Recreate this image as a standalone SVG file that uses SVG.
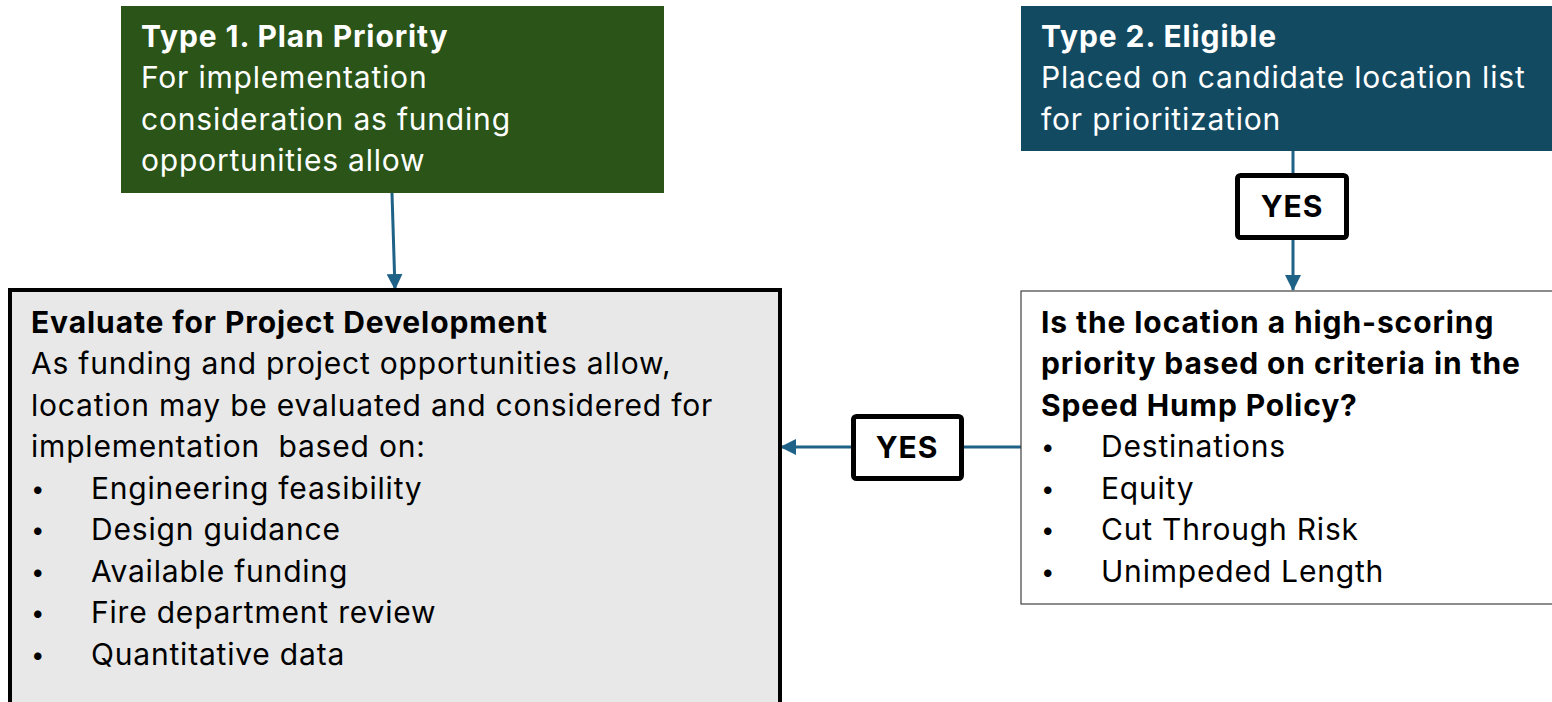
<svg xmlns="http://www.w3.org/2000/svg" width="1552" height="702" viewBox="0 0 1552 702">
<defs>
<style>
text{font-family:Inter,"Noto Sans","Liberation Sans",sans-serif;font-size:30px;letter-spacing:0.8px;}
.w{fill:#ffffff;}
.k{fill:#000000;}
.b{font-weight:bold;letter-spacing:0.9px;}
.bul{font-size:24px;}
.con{stroke:#1f6287;stroke-width:3;fill:none;}
.yes{fill:#ffffff;stroke:#000000;stroke-width:5;}
</style>
<marker id="ah" markerWidth="16" markerHeight="16" refX="15" refY="8" orient="auto" markerUnits="userSpaceOnUse" viewBox="0 0 16 16">
<path d="M0,0 L16,8 L0,16 z" fill="#1f6287"/>
</marker>
</defs>
<rect width="1552" height="702" fill="#ffffff"/>
<g id="connectors">
<path class="con" d="M392,193 L395,289" marker-end="url(#ah)"/>
<path class="con" d="M1293,151 L1293,174"/>
<path class="con" d="M1293,239 L1293,290" marker-end="url(#ah)"/>
<path class="con" d="M1021,447 L964,447"/>
<path class="con" d="M851,447 L781,447" marker-end="url(#ah)"/>
</g>
<g id="type1">
<rect x="121" y="6" width="543" height="187" fill="#2a5418"/>
<text class="w b" x="141" y="47">Type 1. Plan Priority</text>
<text class="w" x="141" y="88">For implementation</text>
<text class="w" x="141" y="130">consideration as funding</text>
<text class="w" x="141" y="171">opportunities allow</text>
</g>
<g id="type2">
<rect x="1021" y="6" width="531" height="145" fill="#124a62"/>
<text class="w b" x="1041" y="47">Type 2. Eligible</text>
<text class="w" x="1041" y="88">Placed on candidate location list</text>
<text class="w" x="1041" y="130">for prioritization</text>
</g>
<g id="yes-top">
<rect class="yes" x="1237.5" y="175.5" width="109" height="62" rx="3"/>
<text class="k b" x="1292" y="217" text-anchor="middle">YES</text>
</g>
<g id="yes-left">
<rect class="yes" x="853.5" y="416.5" width="108" height="62" rx="3"/>
<text class="k b" x="907" y="458" text-anchor="middle">YES</text>
</g>
<g id="evaluate">
<rect x="10" y="290" width="770" height="420" fill="#e8e8e8" stroke="#000000" stroke-width="4"/>
<text class="k b" x="31" y="333">Evaluate for Project Development</text>
<text class="k" x="31" y="374">As funding and project opportunities allow,</text>
<text class="k" x="31" y="416">location may be evaluated and considered for</text>
<text class="k" x="31" y="457" xml:space="preserve">implementation  based on:</text>
<text class="k bul" x="31" y="497">•</text><text class="k" x="91" y="499">Engineering feasibility</text>
<text class="k bul" x="31" y="538">•</text><text class="k" x="91" y="540">Design guidance</text>
<text class="k bul" x="31" y="580">•</text><text class="k" x="91" y="582">Available funding</text>
<text class="k bul" x="31" y="621">•</text><text class="k" x="91" y="623">Fire department review</text>
<text class="k bul" x="31" y="663">•</text><text class="k" x="91" y="665">Quantitative data</text>
</g>
<g id="criteria">
<rect x="1021" y="291" width="540" height="313" fill="#ffffff" stroke="#404040" stroke-width="1.2"/>
<text class="k b" x="1041" y="333">Is the location a high-scoring</text>
<text class="k b" x="1041" y="374">priority based on criteria in the</text>
<text class="k b" x="1041" y="416">Speed Hump Policy?</text>
<text class="k bul" x="1041" y="455">•</text><text class="k" x="1101" y="457">Destinations</text>
<text class="k bul" x="1041" y="497">•</text><text class="k" x="1101" y="499">Equity</text>
<text class="k bul" x="1041" y="538">•</text><text class="k" x="1101" y="540">Cut Through Risk</text>
<text class="k bul" x="1041" y="580">•</text><text class="k" x="1101" y="582">Unimpeded Length</text>
</g>
</svg>
